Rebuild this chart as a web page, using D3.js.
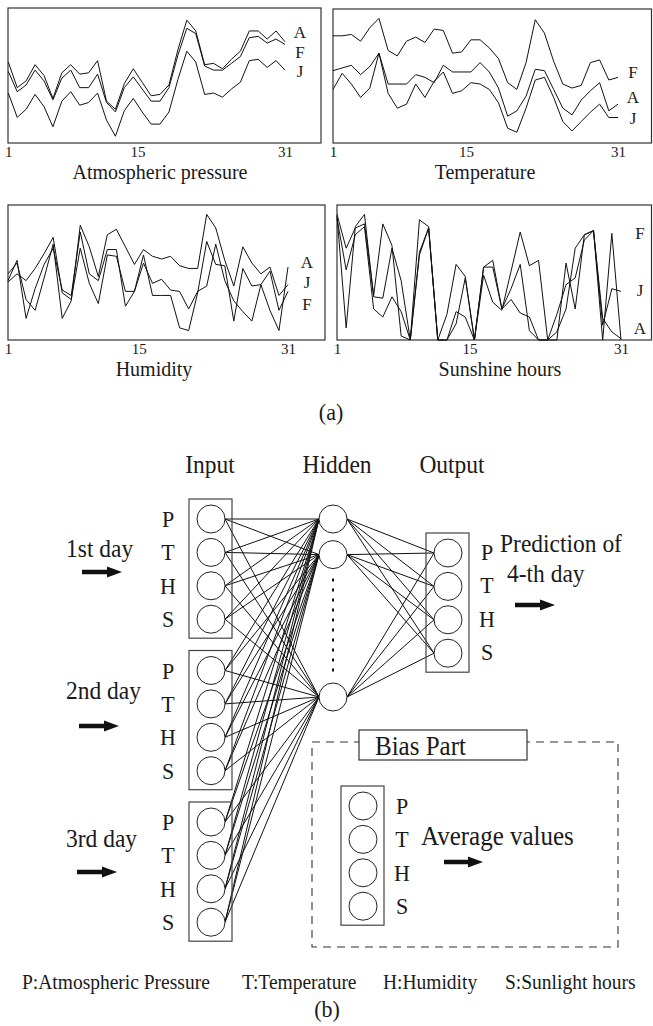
<!DOCTYPE html>
<html lang="en">
<head>
<meta charset="utf-8">
<title>Weather data and network</title>
<script src="https://cdnjs.cloudflare.com/ajax/libs/d3/7.8.5/d3.min.js"></script>
<style>
  body { margin: 0; background: #fff; }
  svg text { font-family: "Liberation Serif", "Times New Roman", serif; fill: #1a1a1a; }
</style>
</head>
<body>
<script>
// ---- data (relative units, 0 = bottom of box, 100 = top) ----
var tickDays = [1, 15, 31];
var nSamples = 32;

var pressureA = [60,41,46,58,50,33,52,58,51,52,61,31,25,44,55,45,35,36,43,69,91,83,58,59,55,62,68,83,83,77,83,75];
var pressureF = [53,38,43,54,46,32,48,54,41,41,51,30,23,41,49,40,31,31,41,65,85,81,57,54,54,59,64,78,79,74,77,73];
var pressureJ = [37,19,25,36,27,12,31,38,28,30,37,17,5,24,33,23,14,14,23,47,68,60,36,37,34,40,45,61,62,56,61,54];

var tempF = [80,80,81,76,86,93,69,65,76,79,75,85,84,67,68,77,77,71,63,45,40,60,92,82,61,44,41,43,60,62,47,49];
var tempA = [54,56,58,51,57,67,44,44,44,51,49,45,58,53,53,53,60,53,41,20,24,35,55,54,40,26,21,32,39,45,24,29];
var tempJ = [40,52,44,34,41,67,37,26,29,44,34,46,53,37,39,45,44,40,30,11,8,26,47,49,34,16,9,16,23,29,19,19];

var humA = [43,49,44,53,64,76,35,30,68,42,27,63,62,36,36,63,33,33,33,9,7,35,73,56,55,14,53,40,41,22,7,54];
var humJ = [49,57,30,22,46,71,16,29,85,69,47,78,82,69,56,67,62,60,62,55,53,53,93,83,59,40,69,57,49,54,33,41];
var humF = [44,59,16,38,56,68,37,33,80,49,44,67,67,25,36,57,42,45,37,36,23,36,40,71,44,29,21,14,41,51,22,36];

var sunF = [92,9,84,93,32,31,68,44,0,89,84,0,0,21,17,0,54,59,23,30,20,17,0,0,0,57,23,78,81,0,79,0];
var sunA = [93,68,83,86,33,86,70,3,0,65,83,0,19,56,47,0,48,28,22,51,80,55,59,0,19,41,46,74,81,16,6,1];
var sunJ = [90,52,78,84,23,17,32,21,0,63,83,0,0,12,46,0,54,54,23,38,56,7,0,0,6,23,68,78,81,11,38,36];

// network
var dayNames = ["1st day", "2nd day", "3rd day"];
var varCodes = ["P", "T", "H", "S"];
var hiddenSlots = [0, 1, 5];
var legendItems = ["P:Atmospheric Pressure", "T:Temperature", "H:Humidity", "S:Sunlight hours"];

var W = 653, H = 1026;
var svg = d3.select("body").append("svg").attr("width", W).attr("height", H);

function label(g, x, y, s, size, anchor, sy) {
  return g.append("text")
    .attr("transform", "translate(" + x + "," + y + ") scale(1," + (sy || 1.08) + ")")
    .attr("text-anchor", anchor || "start")
    .attr("font-size", size)
    .text(s);
}

// ---- part (a): four line panels ----
var panels = [
  { title: "Atmospheric pressure", series: [["A", pressureA], ["F", pressureF], ["J", pressureJ]],
    box: [8, 321, 8, 143], line: [8.3, 285], labX: 300, labY: [38, 58, 77], titleX: 160, titleY: 179 },
  { title: "Temperature", series: [["F", tempF], ["A", tempA], ["J", tempJ]],
    box: [333, 651.5, 9, 143], line: [333, 618], labX: 633, labY: [78, 103, 124], titleX: 485, titleY: 179 },
  { title: "Humidity", series: [["A", humA], ["J", humJ], ["F", humF]],
    box: [8, 325, 205, 340], line: [8, 288], labX: 307, labY: [268, 288, 310], titleX: 154, titleY: 376 },
  { title: "Sunshine hours", series: [["F", sunF], ["J", sunJ], ["A", sunA]],
    box: [337, 651.5, 205, 340], line: [337, 621], labX: 640, labY: [239, 296, 334], titleX: 500, titleY: 376 }
];

panels.forEach(function (p) {
  var g = svg.append("g");
  var x = d3.scaleLinear().domain([1, 31]).range(p.line);
  var y = d3.scaleLinear().domain([0, 100]).range([p.box[3], p.box[2]]);
  // samples are spread evenly over the 1..31 axis
  var pos = function (i) { return 1 + i * 30 / (nSamples - 1); };

  g.append("rect")
    .attr("x", p.box[0]).attr("y", p.box[2])
    .attr("width", p.box[1] - p.box[0]).attr("height", p.box[3] - p.box[2])
    .attr("fill", "none").attr("stroke", "#333").attr("stroke-width", 1.2);

  var line = d3.line().x(function (d, i) { return x(pos(i)); }).y(function (d) { return y(d); });

  g.selectAll("path.series")
    .data(p.series)
    .enter().append("path")
    .attr("class", "series")
    .attr("d", function (s) { return line(s[1]); })
    .attr("fill", "none").attr("stroke", "#111").attr("stroke-width", 1);

  p.series.forEach(function (s, k) {
    label(g, p.labX, p.labY[k], s[0], 17, "middle", 1);
  });

  var axis = d3.axisBottom(x).tickValues(tickDays).tickSize(0).tickPadding(3);
  g.append("g")
    .attr("transform", "translate(0," + p.box[3] + ")")
    .call(axis)
    .call(function (a) { a.select(".domain").remove(); })
    .attr("font-family", null)
    .selectAll("text").attr("font-size", 15).attr("fill", "#1a1a1a");

  label(g, p.titleX, p.titleY, p.title, 20, "middle", 1);
});

label(svg, 331, 420, "(a)", 22, "middle");

// ---- part (b): network diagram ----
var net = svg.append("g");
var r = 14;
var step = 33.4;
var inX = 211, hidX = 333, outX = 448, biasX = 363;
var blockY = d3.scaleLinear().domain([0, 2]).range([519, 822]);
var hidY = d3.scaleLinear().domain([0, 5]).range([519, 697]);
var outY = d3.scaleLinear().domain([0, 3]).range([553, 553 + 3 * step]);
var biasY = d3.scaleLinear().domain([0, 3]).range([806, 806 + 3 * step]);

var inputs = d3.cross(d3.range(dayNames.length), d3.range(varCodes.length))
  .map(function (d) { return { b: d[0], k: d[1], y: blockY(d[0]) + d[1] * step }; });

// edges input -> hidden
net.selectAll("line.ih")
  .data(d3.cross(inputs, hiddenSlots))
  .enter().append("line")
  .attr("x1", inX + r).attr("y1", function (d) { return d[0].y; })
  .attr("x2", hidX - r).attr("y2", function (d) { return hidY(d[1]); })
  .attr("stroke", "#111").attr("stroke-width", 1);

// edges hidden -> output
net.selectAll("line.ho")
  .data(d3.cross(hiddenSlots, d3.range(varCodes.length)))
  .enter().append("line")
  .attr("x1", hidX + r).attr("y1", function (d) { return hidY(d[0]); })
  .attr("x2", outX - r).attr("y2", function (d) { return outY(d[1]); })
  .attr("stroke", "#111").attr("stroke-width", 1);

// dotted hidden gap
net.append("line")
  .attr("x1", hidX).attr("x2", hidX)
  .attr("y1", hidY(1) + 24).attr("y2", hidY(5) - 20)
  .attr("stroke", "#111").attr("stroke-width", 2).attr("stroke-dasharray", "3,7");

function column(cx, cys, top, bottom) {
  net.append("rect")
    .attr("x", cx - 22).attr("y", top)
    .attr("width", 43).attr("height", bottom - top)
    .attr("fill", "none").attr("stroke", "#444").attr("stroke-width", 1.2);
  net.selectAll(null).data(cys).enter().append("circle")
    .attr("cx", cx).attr("cy", function (d) { return d; }).attr("r", r)
    .attr("fill", "#fff").attr("stroke", "#222").attr("stroke-width", 1);
}

dayNames.forEach(function (name, b) {
  var cys = varCodes.map(function (v, k) { return blockY(b) + k * step; });
  column(inX, cys, cys[0] - 20, cys[3] + 19);
  varCodes.forEach(function (v, k) { label(net, 168, cys[k] + 8, v, 22, "middle"); });
});

net.selectAll("circle.hid").data(hiddenSlots).enter().append("circle")
  .attr("class", "hid")
  .attr("cx", hidX).attr("cy", function (d) { return hidY(d); }).attr("r", r)
  .attr("fill", "#fff").attr("stroke", "#222").attr("stroke-width", 1);

var outCys = varCodes.map(function (v, k) { return outY(k); });
column(outX, outCys, outCys[0] - 20, outCys[3] + 19);
varCodes.forEach(function (v, k) { label(net, 487, outCys[k] + 7, v, 22, "middle"); });

// bias part
net.append("rect")
  .attr("x", 312).attr("y", 742).attr("width", 306).attr("height", 205)
  .attr("fill", "none").attr("stroke", "#333").attr("stroke-width", 1.1)
  .attr("stroke-dasharray", "8,6");
net.append("rect")
  .attr("x", 359).attr("y", 730).attr("width", 168).attr("height", 30)
  .attr("fill", "#fff").attr("stroke", "#333").attr("stroke-width", 1.2);
label(net, 375, 755, "Bias Part", 25);

var biasCys = varCodes.map(function (v, k) { return biasY(k); });
column(biasX, biasCys, biasCys[0] - 20, biasCys[3] + 19);
varCodes.forEach(function (v, k) { label(net, 402, biasCys[k] + 8, v, 22, "middle"); });
label(net, 421, 845, "Average values", 25);

// headers
label(net, 210, 473, "Input", 23.5, "middle");
label(net, 337, 473, "Hidden", 23.5, "middle");
label(net, 452, 473, "Output", 23.5, "middle");

// day labels and arrows
var dayLabelY = [557, 699, 847];
var dayArrowY = [572, 726, 872];
var dayArrowX = [82, 79, 77];

function arrow(x0, x1, y) {
  var hl = 15, hh = 5.5, sh = 2.3;
  net.append("path")
    .attr("d", "M" + x0 + "," + (y - sh) + "H" + (x1 - hl) + "V" + (y - hh) +
      "L" + x1 + "," + y + "L" + (x1 - hl) + "," + (y + hh) + "V" + (y + sh) + "H" + x0 + "Z")
    .attr("fill", "#111");
}

dayNames.forEach(function (name, b) {
  label(net, 66, dayLabelY[b], name, 23.5);
  arrow(dayArrowX[b], dayArrowX[b] + 40, dayArrowY[b]);
});

label(net, 500, 552, "Prediction of", 23.5);
label(net, 507, 582, "4-th day", 23.5);
arrow(515, 555, 605);
arrow(444, 483, 862);

// legend
var legendX = [22, 242, 383, 505];
legendItems.forEach(function (s, i) { label(net, legendX[i], 989, s, 19.5); });
label(svg, 327, 1017, "(b)", 22, "middle");
</script>
</body>
</html>
